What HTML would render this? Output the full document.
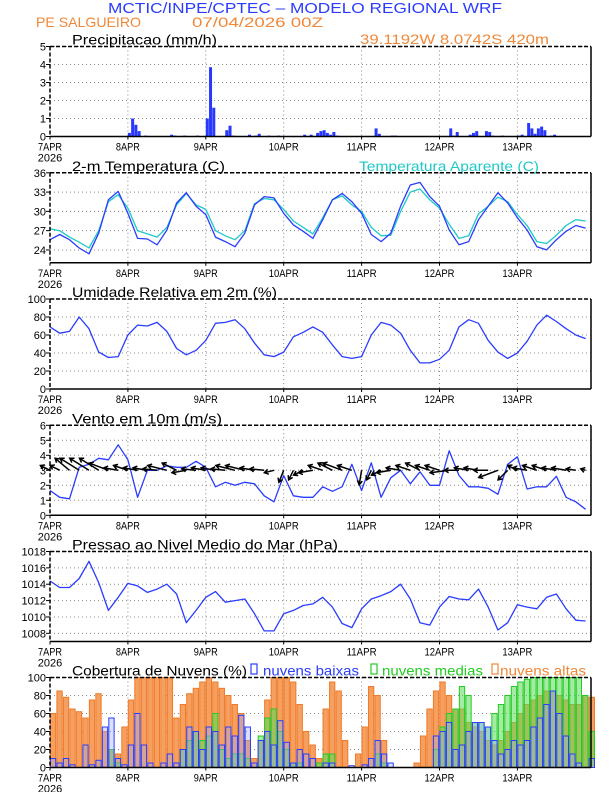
<!DOCTYPE html>
<html><head><meta charset="utf-8"><style>
html,body{margin:0;padding:0;background:#fff;}
svg{display:block;}
text{font-family:"Liberation Sans",sans-serif;}
</style></head><body>
<svg id="chart" width="612" height="792" viewBox="0 0 612 792" xmlns="http://www.w3.org/2000/svg">
<text x="108" y="13" font-size="15" fill="#2a3cff" textLength="394" lengthAdjust="spacingAndGlyphs">MCTIC/INPE/CPTEC – MODELO REGIONAL WRF</text>
<text x="36" y="27" font-size="14" fill="#f08838" textLength="105" lengthAdjust="spacingAndGlyphs">PE SALGUEIRO</text>
<text x="192" y="27" font-size="14" fill="#f08838" textLength="131" lengthAdjust="spacingAndGlyphs">07/04/2026 00Z</text>
<text x="360" y="44" font-size="14" fill="#f08838" textLength="189" lengthAdjust="spacingAndGlyphs">39.1192W 8.0742S 420m</text>
<g id="layer"></g>
</svg>
<script>
// ---- data (hourly index = hours since 7APR 00Z) ----
const dayLabels = ["7APR","8APR","9APR","10APR","11APR","12APR","13APR"];
const precipHours = [24,25,26,27,29,37,38,41,45,48,49,50,54,55,56,61,63,64,67,70,78,80,82,83,84,85,86,87,88,100,101,105,106,123,124,125,129,130,131,134,135,136,139,144,145,147,148,149,150,151,152,154,155];
const precipValues = [0.2,1.0,0.65,0.3,0.05,0.1,0.05,0.05,0.05,1.0,3.85,1.6,0.35,0.6,0.05,0.1,0.05,0.15,0.05,0.05,0.1,0.1,0.2,0.3,0.35,0.2,0.1,0.25,0.05,0.45,0.15,0.05,0.05,0.45,0.05,0.25,0.1,0.2,0.3,0.3,0.25,0.05,0.05,0.05,0.1,0.75,0.45,0.15,0.45,0.55,0.35,0.05,0.1];
// 3-hourly series
const tempValues = [25.6,26.4,25.6,24.3,23.4,26.6,31.8,33.1, 29.7,25.8,25.7,24.8,27.1,31.3,32.9,30.8, 29.5,26,25.3,24.5,26.6,31,32.3,32.1, 29.7,27.9,26.9,25.8,28.7,31.8,32.8,31.5, 29.7,26.4,25.3,26.6,30.8,34.1,34.5,32.3, 30.8,27.1,24.8,25.3,28.7,30.8,32.9,31.3, 29,27.1,24.5,24,25.6,26.9,27.8,27.4];
const apparentValues = [27.3,27,26,25.2,24.3,27,31.5,32.6, 30.5,27,26.5,26,27.5,31,32.8,31, 30.3,27,26.2,25.6,27,31.2,32,31.8, 30.3,28.5,27.5,26.5,29,31.8,32.4,31, 30,27.5,26.2,26.3,30,33,33.5,31.8, 30.5,28,25.8,26.2,29.6,30.8,32.2,31.5, 29.5,27.8,25.3,25,26.3,27.8,28.7,28.5];
const rhValues = [69,62,64,80,67,41,35,36, 60,71,70,74,64,45,38,43, 54,73,74,77,67,51,38,36, 41,58,63,69,63,49,36,34, 36,60,74,71,62,43,29,29, 33,43,69,77,73,54,41,34, 40,53,71,82,75,67,60,56];
const windSpeed = [1.65,1.2,1.1,3.2,3.4,3.8,3.7,4.7, 3.7,1.2,3.0,3.0,3.3,3.2,3.2,3.6, 3.2,1.9,2.2,2.0,2.2,2.1,1.3,0.9, 2.65,1.3,1.2,1.2,1.9,1.6,1.9,3.4, 1.65,3.5,1.2,2.5,3.0,2.1,2.9,2.0, 2.0,4.3,2.65,1.9,1.9,1.8,1.4,3.4, 3.9,1.75,1.9,1.9,2.6,1.2,0.9,0.4];
const windU = [-2,-2,-3,-4,-4,-4,-4,-3, -3,-3,-3,-3,-4,-3,-3,-3, -3,-3,-3,-4,-4,-3,-3,-2, -1,-1,-2,-3,-3,-3,-4,-3, -0.5,-1,-2,-3,-3,-3,-3,-3, -3,-4,-3,-3,-3,-3,-4,-2, -2,-3,-3,-3,-3,-3,-2,-1];
const windV = [1,1,2.5,2.5,2.5,2.5,1.5,0.5, 1,0.5,0.5,0.3,1,1.5,-0.5,0.3, 0.5,0.5,0.3,1,1,0.5,0.3,-0.5, -2.5,-2,-1,-0.5,1,1.5,1.5,1, -3,-2,-1,-0.5,0.5,1,1.5,1, 1,-0.5,0,0.5,0.5,0,-1.5,-2, 1,0.5,1,1,0.5,0.5,0.3,0.3];
const pressureValues = [1014.4,1013.6,1013.6,1014.7,1016.8,1014.2,1010.8,1012.4, 1014.1,1013.8,1013,1013.4,1014,1012.8,1009.3,1010.8, 1012.4,1013.1,1011.8,1012,1012.2,1010.4,1008.3,1008.3, 1010.4,1010.8,1011.4,1011.6,1012.4,1011.2,1009.2,1008.7, 1011,1012.2,1012.6,1013.1,1014,1012.2,1009.3,1009, 1011.2,1012.5,1012.2,1012.1,1013.4,1011.2,1008.4,1009.3, 1011.5,1011.2,1011,1012.4,1012.8,1011,1009.6,1009.5];
// 2-hourly cloud cover
const cloudHigh = [60,85,78,65,62,55,75,82,40,20,15,45,75,100,100,100,100,100,100,55,70,82,88,95,100,95,88,80,70,60,30,10,30,75,100,100,100,95,70,40,25,10,65,95,85,30,0,15,45,90,80,30,0,0,0,0,5,35,65,85,95,80,65,65,50,45,40,30,25,30,40,50,60,70,75,80,85,85,80,75,70,70,80,78];
const cloudMid = [0,0,0,0,0,0,0,0,0,20,5,0,0,0,0,0,0,0,0,0,20,30,40,30,35,60,20,10,15,15,10,0,35,55,65,40,20,5,5,0,0,5,15,15,0,0,0,0,0,0,15,5,0,0,0,0,0,0,0,20,45,60,65,90,80,50,50,45,60,70,80,90,95,98,100,100,100,100,100,100,100,100,80,40];
const cloudLow = [10,5,10,3,0,25,3,8,45,55,10,3,25,60,25,5,0,5,15,5,20,45,40,20,45,40,25,45,35,58,45,5,30,40,25,52,28,5,20,15,10,0,5,5,0,0,2,0,3,10,30,15,5,0,0,0,0,0,0,35,40,50,20,25,40,50,50,45,30,15,20,30,25,30,45,55,70,85,60,35,15,5,0,10];

// ---- geometry ----
const X0 = 50, X1 = 591, HPD = 77.9/24;
function xh(h){ return X0 + h*HPD; }
const PH = 90;
const svg = document.getElementById('layer');
const NS = "http://www.w3.org/2000/svg";
function mk(tag, attrs, parent){ const e=document.createElementNS(NS,tag); for(const k in attrs) e.setAttribute(k,attrs[k]); (parent||svg).appendChild(e); return e; }

function panel(name, top, ymin, ymax, ticks, title, titleW){
  const g = mk('g',{});
  
  
  const y = v => top + PH - (v-ymin)/(ymax-ymin)*PH;
  ticks.forEach(t=>{
    const gl = mk('line',{x1:X0,x2:X1,y1:y(t),y2:y(t),stroke:'#888','stroke-width':1,'stroke-dasharray':'1,3'},g);
    
    
    const tl = mk('text',{x:46,y:y(t)+4,'font-size':11,'text-anchor':'end',fill:'#000'},g);
    tl.textContent = t;
    
    
    mk('line',{x1:X0-4,x2:X0,y1:y(t),y2:y(t),stroke:'#000'},g);
  });
  for(let d=1; d<7; d++){
    const vl = mk('line',{x1:xh(d*24),x2:xh(d*24),y1:top,y2:top+PH,stroke:'#888','stroke-width':1,'stroke-dasharray':'1,3'},g);
    
    
  }
  dayLabels.forEach((lab,d)=>{
    const t = mk('text',{x:xh(d*24),y:top+PH+14,'font-size':11,'text-anchor':'middle',fill:'#000',textLength:lab.length*6,lengthAdjust:'spacingAndGlyphs'},g);
    t.textContent = lab;
    
    
    mk('line',{x1:xh(d*24),x2:xh(d*24),y1:top+PH,y2:top+PH+3,stroke:'#000'},g);
  });
  const yr = mk('text',{x:X0,y:top+PH+25,'font-size':11,'text-anchor':'middle',fill:'#000'},g);
  yr.textContent = '2026';
  
  
  const tt = mk('text',{x:72,y:top-2,'font-size':14,fill:'#000',textLength:titleW,lengthAdjust:'spacingAndGlyphs'},g);
  tt.textContent = title;
  
  
  return {g,y,top};
}
function frame(p){
  const t=p.top;
  mk('line',{x1:X0,x2:X1,y1:t,y2:t,stroke:'#000','stroke-width':1.5,'stroke-dasharray':'4,2'},p.g);
  mk('line',{x1:X0,x2:X0,y1:t,y2:t+PH,stroke:'#000','stroke-width':1.5,'stroke-dasharray':'4,2'},p.g);
  mk('line',{x1:X0,x2:X1,y1:t+PH,y2:t+PH,stroke:'#000','stroke-width':1.5},p.g);
  mk('line',{x1:X1,x2:X1,y1:t,y2:t+PH,stroke:'#000','stroke-width':1.5},p.g);
}
function line(p, vals, step, color, name){
  const pts = vals.map((v,i)=> xh(i*step).toFixed(1)+','+p.y(v).toFixed(1)).join(' ');
  const pl = mk('polyline',{points:pts,fill:'none',stroke:color,'stroke-width':1.3,'stroke-linejoin':'round'},p.g);
  
  
}

const p1 = panel('precipitation-panel', 46.5, 0, 5, [0,1,2,3,4,5], 'Precipitacao (mm/h)', 145);
precipHours.forEach((h,i)=>{
  const v = precipValues[i];
  const b = mk('rect',{x:xh(h),y:p1.y(v),width:3,height:p1.y(0)-p1.y(v),fill:'#2838ff'},p1.g);
  
  
});
frame(p1);

const p2 = panel('temperature-panel', 172.8, 22, 36, [24,27,30,33,36], '2-m Temperatura (C)', 153);
const lt = mk('text',{x:359,y:170.8,'font-size':14,fill:'#20c8c8',textLength:180,lengthAdjust:'spacingAndGlyphs'},p2.g);
lt.textContent = 'Temperatura Aparente (C)';


line(p2, apparentValues, 3, '#20c8c8', 'apparent-temperature-line');
line(p2, tempValues, 3, '#2a3cff', 'temperature-line');
frame(p2);

const p3 = panel('humidity-panel', 299, 0, 100, [0,20,40,60,80,100], 'Umidade Relativa em 2m (%)', 205);
line(p3, rhValues, 3, '#2a3cff', 'humidity-line');
frame(p3);

const p4 = panel('wind-panel', 425.3, 0, 6, [0,1,2,3,4,5,6], 'Vento em 10m (m/s)', 150);
line(p4, windSpeed, 3, '#2a3cff', 'wind-speed-line');
windU.forEach((u,i)=>{
  const v = windV[i];
  const x0 = xh(i*3), y0 = p4.y(3);
  const dx = u*4.8, dy = -v*4.8;
  const x1 = x0+dx, y1 = y0+dy;
  const len = Math.hypot(dx,dy)||1, ux=dx/len, uy=dy/len;
  const a = mk('path',{d:`M${x0},${y0}L${x1},${y1}M${x1-ux*4-uy*2.5},${y1-uy*4+ux*2.5}L${x1},${y1}L${x1-ux*4+uy*2.5},${y1-uy*4-ux*2.5}`,stroke:'#000','stroke-width':1.5,fill:'none'},p4.g);
  
  
});
frame(p4);

const p5 = panel('pressure-panel', 551.5, 1007, 1018, [1008,1010,1012,1014,1016,1018], 'Pressao ao Nivel Medio do Mar (hPa)', 266);
line(p5, pressureValues, 3, '#2a3cff', 'pressure-line');
frame(p5);

const p6 = panel('cloud-panel', 677.5, 0, 100, [0,20,40,60,80,100], 'Cobertura de Nuvens (%)', 175);
function bars(vals, fill, stroke, name){
  vals.forEach((v,i)=>{
    if(v<=0) return;
    const b = mk('rect',{x:xh(i*2)+0.4,y:p6.y(v),width:2*HPD-1.2,height:p6.y(0)-p6.y(v),fill:fill,stroke:stroke,'stroke-width':1},p6.g);
    
    
  });
}
bars(cloudHigh, '#f5a060', '#f07a28', 'high-cloud-bar');
bars(cloudMid, 'rgba(90,220,90,0.55)', '#22cc22', 'mid-cloud-bar');
bars(cloudLow, 'rgba(150,170,255,0.35)', '#2a3cff', 'low-cloud-bar');
frame(p6);
const legend = [['#2a3cff','nuvens baixas',251,263,96,'legend-low-clouds'],['#22cc22','nuvens medias',371,382,101,'legend-mid-clouds'],['#f08838','nuvens altas',492,500,86,'legend-high-clouds']];
legend.forEach(L=>{
  const lg = mk('g',{},p6.g);
  
  
  mk('rect',{x:L[2],y:664,width:6,height:10,fill:'none',stroke:L[0],'stroke-width':1.2},lg);
  const t = mk('text',{x:L[3],y:675.5,'font-size':14,fill:L[0],textLength:L[4],lengthAdjust:'spacingAndGlyphs'},lg);
  t.textContent = L[1];
});
</script>
</body></html>
